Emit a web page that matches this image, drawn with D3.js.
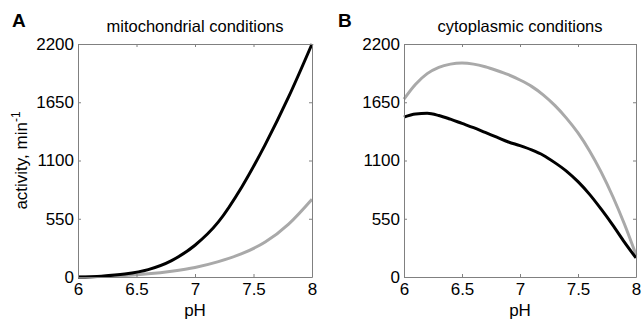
<!DOCTYPE html>
<html>
<head>
<meta charset="utf-8">
<script src="https://cdn.jsdelivr.net/npm/d3@7"></script>
<style>
  html, body { margin: 0; padding: 0; background: #fff; }
  svg { display: block; font-family: "Liberation Sans", Arial, sans-serif; }
</style>
</head>
<body>
<svg id="chart" width="643" height="322"></svg>
<script>
// pH sampling grid and activity values (min^-1)
const phMito = [6.0, 6.2, 6.4, 6.6, 6.8, 7.0, 7.2, 7.4, 7.6, 7.8, 8.0];
const mitoBlack = [0, 8, 28, 70, 155, 300, 520, 850, 1250, 1700, 2200];
const mitoGray = [0, 5, 14, 30, 55, 90, 145, 220, 330, 500, 735];

const phCyto = [6.0, 6.1, 6.2, 6.3, 6.4, 6.5, 6.6, 6.7, 6.8, 6.9, 7.0,
                7.1, 7.2, 7.3, 7.4, 7.5, 7.6, 7.7, 7.8, 7.9, 8.0];
const cytoGray = [1680, 1820, 1920, 1980, 2010, 2020, 2010, 1985, 1950, 1910, 1860,
                  1800, 1720, 1620, 1500, 1360, 1190, 990, 760, 500, 210];
const cytoBlack = [1510, 1540, 1545, 1525, 1490, 1450, 1410, 1365, 1320, 1275, 1240,
                   1200, 1150, 1080, 1000, 900, 780, 640, 490, 330, 180];

const xTicks = [6, 6.5, 7, 7.5, 8];
const yTicks = [0, 550, 1100, 1650, 2200];

const panels = [
  { letter: "A", title: "mitochondrial conditions", left: 78, right: 312,
    ph: phMito, series: [mitoGray, mitoBlack], ylabel: true },
  { letter: "B", title: "cytoplasmic conditions", left: 404, right: 636,
    ph: phCyto, series: [cytoGray, cytoBlack], ylabel: false }
];
const plotTop = 44, plotBottom = 277;
const colors = ["#a9a9a9", "#000000"];
const axisColor = "#808080";
const svg = d3.select("#chart");

panels.forEach(p => {
  const x = d3.scaleLinear().domain([6, 8]).range([p.left, p.right]);
  const y = d3.scaleLinear().domain([0, 2200]).range([plotBottom, plotTop]);
  const g = svg.append("g");

  // curves
  const line = d3.line()
    .x((d, i) => x(p.ph[i]))
    .y(d => y(d))
    .curve(d3.curveMonotoneX);
  p.series.forEach((s, k) => {
    g.append("path").datum(s)
      .attr("d", line)
      .attr("fill", "none")
      .attr("stroke", colors[k])
      .attr("stroke-width", 3)
      .attr("stroke-linejoin", "round");
  });

  // box with inward ticks on all sides
  const tl = 3;
  const axB = d3.axisBottom(x).tickValues(xTicks).tickSizeInner(-tl).tickSizeOuter(0)
    .tickPadding(6).tickFormat(d3.format("~g"));
  const axT = d3.axisTop(x).tickValues(xTicks).tickSizeInner(-tl).tickSizeOuter(0).tickFormat("");
  const axL = d3.axisLeft(y).tickValues(yTicks).tickSizeInner(-tl).tickSizeOuter(0)
    .tickPadding(4).tickFormat(d3.format("d"));
  const axR = d3.axisRight(y).tickValues(yTicks).tickSizeInner(-tl).tickSizeOuter(0).tickFormat("");

  const styleAxis = sel => {
    sel.selectAll("path, line").attr("stroke", axisColor);
    sel.selectAll("text").attr("fill", "#000").style("font-size", "17px")
      .style("font-family", "'Liberation Sans', Arial, sans-serif");
  };
  g.append("g").attr("transform", `translate(0,${plotBottom})`).call(axB).call(styleAxis);
  g.append("g").attr("transform", `translate(0,${plotTop})`).call(axT).call(styleAxis);
  g.append("g").attr("transform", `translate(${p.left},0)`).call(axL).call(styleAxis);
  g.append("g").attr("transform", `translate(${p.right},0)`).call(axR).call(styleAxis);

  // titles
  g.append("text").attr("x", (p.left + p.right) / 2).attr("y", 32)
    .attr("text-anchor", "middle").style("font-size", "16.5px").text(p.title);
  g.append("text").attr("x", p.left - 66).attr("y", 27)
    .style("font-size", "19px").style("font-weight", "bold").text(p.letter);
  g.append("text").attr("x", (p.left + p.right) / 2).attr("y", 316)
    .attr("text-anchor", "middle").style("font-size", "17px").text("pH");

  if (p.ylabel) {
    const t = g.append("text")
      .attr("transform", `translate(27,${(plotTop + plotBottom) / 2}) rotate(-90)`)
      .attr("text-anchor", "middle").style("font-size", "17px");
    t.append("tspan").text("activity, min");
    t.append("tspan").attr("dy", -7).style("font-size", "12px").text("-1");
  }
});
</script>
</body>
</html>
